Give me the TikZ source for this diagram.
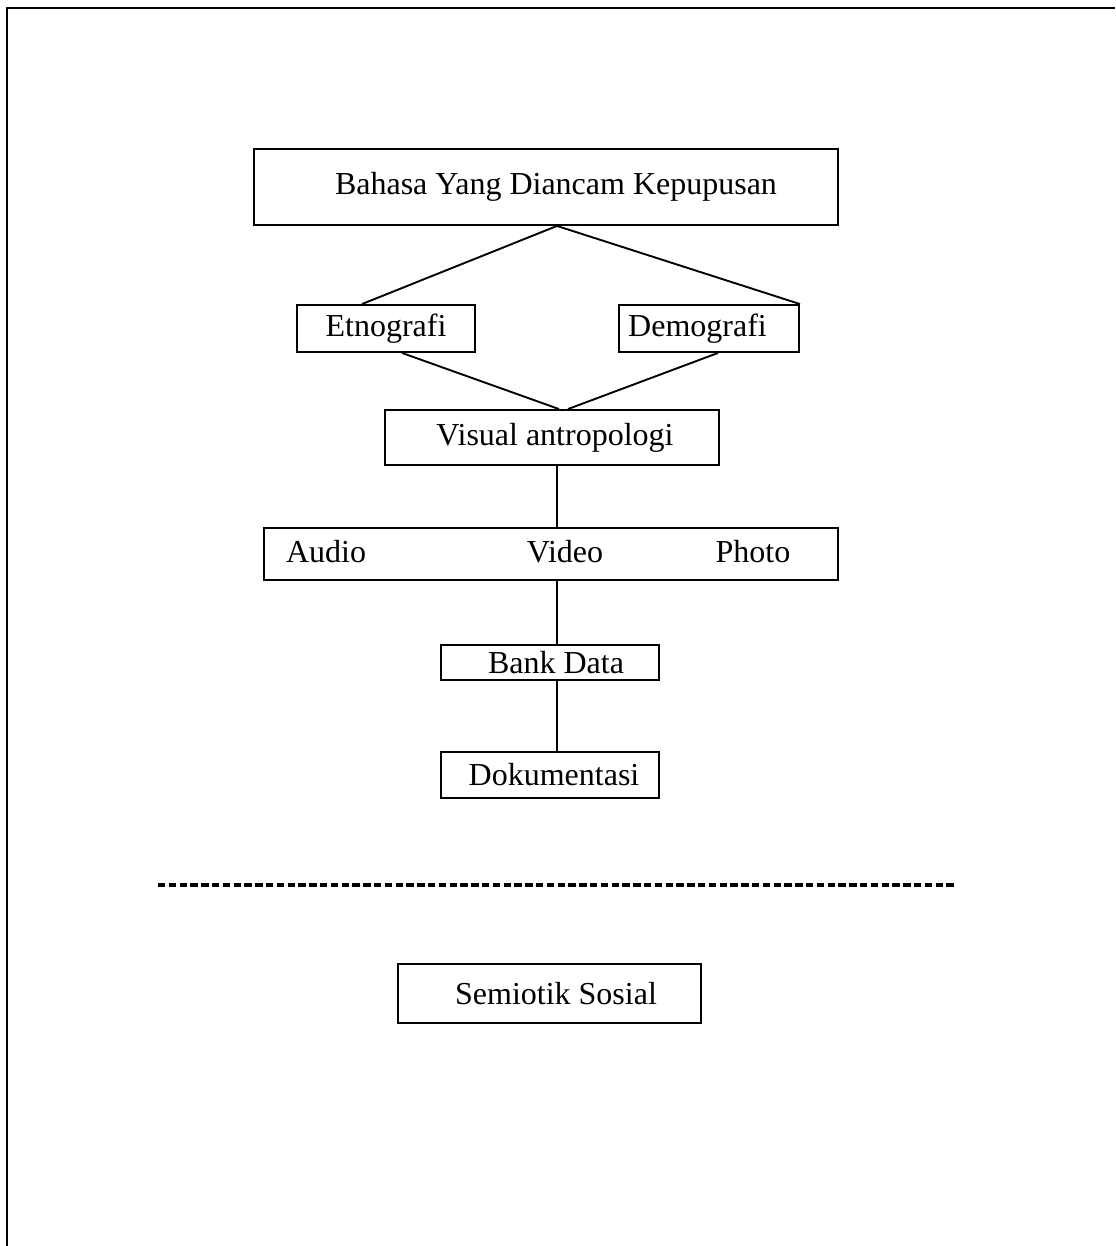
\documentclass[tikz,border=0pt]{standalone}
\usepackage{fontspec}
\setmainfont{Liberation Serif}
\begin{document}
\begin{tikzpicture}[x=1pt,y=-1pt,
  box/.style={draw,line width=1.9pt,inner sep=0pt,font=\fontsize{32}{38}\selectfont},
  lbl/.style={inner sep=0pt,font=\fontsize{32}{38}\selectfont},
  conn/.style={line width=1.9pt}]
\useasboundingbox (0,0) rectangle (1115,1246);
% frame
\draw[line width=2.2pt] (7,1246) -- (7,8) -- (1115,8);
% boxes
\node[box,minimum width=584pt,minimum height=76pt] (top) at (546,187) {\hspace{20pt}Bahasa Yang Diancam Kepupusan};
\node[box,minimum width=178pt,minimum height=47pt] (etno) at (386,328.5) {Etnografi};
\node[box,minimum width=180pt,minimum height=47pt] (demo) at (709,328.5) {Demografi\kern23pt};
\node[box,minimum width=334pt,minimum height=55pt] (vis) at (552,437.5) {\hspace{6pt}Visual antropologi};
\node[box,minimum width=574pt,minimum height=52pt] (avp) at (551,554) {};
\node[lbl] (audio) at (326,552) {Audio};
\node[lbl] (video) at (565,552) {Video};
\node[lbl] (photo) at (753,552) {Photo};
\node[box,minimum width=218pt,minimum height=35pt] (bank) at (550,662.5) {\hspace{12pt}Bank Data};
\node[box,minimum width=218pt,minimum height=46pt] (dok) at (550,775) {\hspace{8pt}Dokumentasi};
\node[box,minimum width=303pt,minimum height=59pt] (semi) at (549.5,993.5) {\hspace{13pt}Semiotik Sosial};
% connectors
\draw[conn] ([xshift=11pt]top.south) -- ([xshift=-24pt]etno.north);
\draw[conn] ([xshift=11pt]top.south) -- (demo.north east);
\draw[conn] ([xshift=16pt]etno.south) -- ([xshift=7pt]vis.north);
\draw[conn] ([xshift=9pt]demo.south) -- ([xshift=16pt]vis.north);
\draw[conn] ([xshift=5pt]vis.south) -- (avp.north -| 557,0);
\draw[conn] (avp.south -| 557,0) -- (bank.north -| 557,0);
\draw[conn] (bank.south -| 557,0) -- (dok.north -| 557,0);
% dashed separator
\coordinate (dl) at (158,885);
\coordinate (dr) at (956,885);
\draw[line width=3.8pt,dash pattern=on 7.4pt off 3.4pt] (dl) -- (dr);
\end{tikzpicture}
\end{document}
